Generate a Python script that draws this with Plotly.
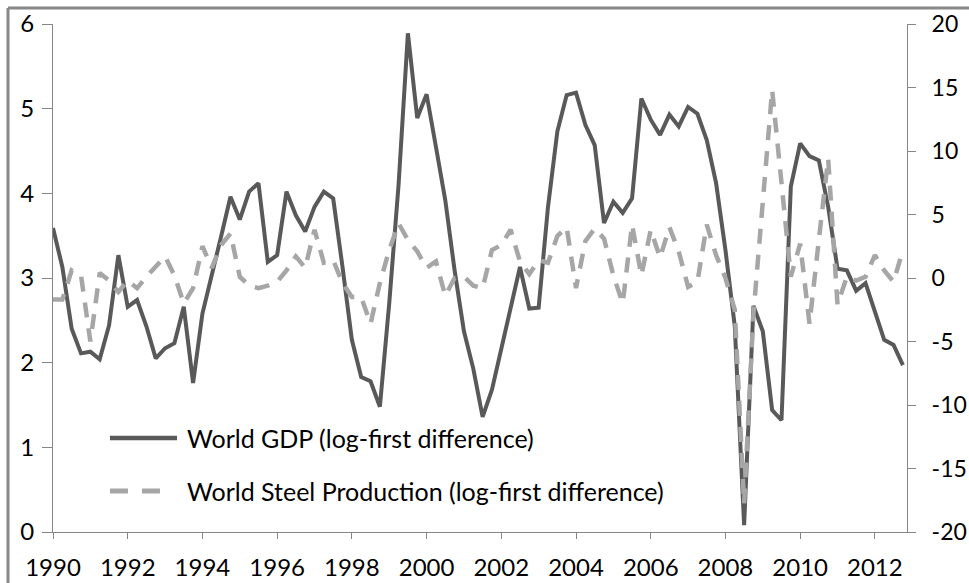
import plotly.graph_objects as go

# quarterly series, 1990Q1 .. 2012Q4
start_year = 1990
world_gdp = [
    3.59, 3.13, 2.40, 2.11, 2.13, 2.04, 2.44, 3.27,
    2.66, 2.74, 2.43, 2.05, 2.17, 2.23, 2.66, 1.76,
    2.58, 3.02, 3.49, 3.96, 3.69, 4.02, 4.12, 3.19,
    3.27, 4.02, 3.74, 3.55, 3.84, 4.02, 3.94, 3.13,
    2.27, 1.83, 1.78, 1.48, 2.70, 4.10, 5.89, 4.89,
    5.17, 4.55, 3.92, 3.09, 2.37, 1.93, 1.36, 1.68,
    2.15, 2.66, 3.13, 2.64, 2.65, 3.84, 4.73, 5.16,
    5.19, 4.81, 4.57, 3.65, 3.90, 3.77, 3.94, 5.12,
    4.87, 4.69, 4.93, 4.79, 5.02, 4.94, 4.63, 4.12,
    3.33, 2.43, 0.08, 2.67, 2.37, 1.44, 1.32, 4.08,
    4.59, 4.44, 4.39, 3.84, 3.11, 3.09, 2.85, 2.94,
    2.62, 2.27, 2.21, 1.97,
]
world_steel = [
    -1.7, -1.7, 0.6, 0.2, -5.0, 0.4, -0.2, -1.1,
    -0.2, -0.8, 0.1, 0.9, 1.7, 0.2, -2.0, -0.8,
    2.5, 0.8, 2.6, 3.5, 0.1, -0.6, -0.8, -0.6,
    -0.3, 0.6, 1.7, 0.8, 3.8, 1.2, 1.4, -0.4,
    -1.5, -1.5, -3.6, -0.4, 2.2, 4.3, 3.0, 2.1,
    0.8, 1.3, -1.4, 0.0, 0.1, -0.6, -0.8, 2.2,
    2.6, 3.8, 1.3, 0.3, 1.4, 1.2, 3.3, 4.0,
    -0.8, 2.9, 3.9, 3.1, 0.2, -2.0, 4.2, 0.2,
    3.8, 1.6, 4.0, 2.1, -0.7, -0.3, 4.2, 1.8,
    0.0, -2.5, -17.8, -2.8, 6.0, 14.8, 7.5, 0.1,
    2.7, -3.6, 3.0, 9.4, -2.1, 0.1, -0.2, 0.1,
    1.8, 0.6, -0.3, 2.2,
]
year_ticks = list(range(1990, 2013, 2))
steel_ticks = [-20, -15, -10, -5, 0, 5, 10, 15, 20]
steel_tick_text = ['-20', '-15', '-10', '-5', '0', '5', '10', '15', '20']
gdp_label = 'World GDP (log-first difference)'
steel_label = 'World Steel Production (log-first difference)'

x = [start_year + i / 4 for i in range(len(world_gdp))]

gdp_color = '#595959'
steel_color = '#a6a6a6'
axis_color = '#868686'
frame_color = '#888888'
font = dict(family='Lato', size=24, color='#000000')
legend_font = dict(family='Lato', size=25, color='#000000')

fig = go.Figure()
fig.add_trace(go.Scatter(x=x, y=world_gdp, mode='lines', name=gdp_label,
                         line=dict(color=gdp_color, width=4)))
fig.add_trace(go.Scatter(x=x, y=world_steel, mode='lines', name=steel_label, yaxis='y2',
                         line=dict(color=steel_color, width=4.5, dash='15px,11px')))

# hand-placed legend, like the excel one
fig.add_shape(type='line', xref='paper', yref='paper', x0=0.0667, x1=0.1452, y0=0.185, y1=0.185,
              line=dict(color=gdp_color, width=4.5))
fig.add_shape(type='line', xref='paper', yref='paper', x0=0.0667, x1=0.1276, y0=0.0807, y1=0.0807,
              line=dict(color=steel_color, width=5, dash='18px,14px'))
fig.add_annotation(text=gdp_label, xref='paper', yref='paper', x=0.1546, y=0.185,
                   xanchor='left', yanchor='middle', showarrow=False, font=legend_font)
fig.add_annotation(text=steel_label, xref='paper', yref='paper', x=0.1546, y=0.0807,
                   xanchor='left', yanchor='middle', showarrow=False, font=legend_font)

# chart-area frame, top and left edges (the rest runs off the picture)
fig.add_shape(type='line', xref='paper', yref='paper', x0=-0.0527, x1=1.2, y0=1.0315, y1=1.0315,
              line=dict(color=frame_color, width=3), layer='above')
fig.add_shape(type='line', xref='paper', yref='paper', x0=-0.0527, x1=-0.0527, y0=-0.2, y1=1.0315,
              line=dict(color=frame_color, width=3), layer='above')

fig.update_layout(
    width=969, height=583,
    margin=dict(l=53, r=62, t=24, b=51),
    plot_bgcolor='white', paper_bgcolor='white',
    showlegend=False,
    font=font,
    xaxis=dict(range=[1990, 2012.86], tickvals=year_ticks, ticks='outside', ticklen=6,
               tickcolor=axis_color, showline=True, linecolor=axis_color, linewidth=1,
               showgrid=False, zeroline=False, ticklabelstandoff=8, automargin=False),
    yaxis=dict(range=[0, 6], dtick=1, ticks='outside', ticklen=10, tickcolor=axis_color,
               showline=True, linecolor=axis_color, linewidth=1, showgrid=False,
               zeroline=False, ticklabelstandoff=3, automargin=False),
    yaxis2=dict(range=[-20, 20], tickvals=steel_ticks, ticktext=steel_tick_text,
                overlaying='y', side='right', ticks='outside',
                ticklen=8, tickcolor=axis_color, showline=True, linecolor=axis_color,
                linewidth=1, showgrid=False, zeroline=False, ticklabelstandoff=11,
                automargin=False, tickfont=dict(family='Lato', size=23, color='#000000')),
)

# drop the default page margin so the figure sits at the window corner
fig.write_html('out.html', config={'displayModeBar': False},
               post_script="document.body.style.margin='0';")
